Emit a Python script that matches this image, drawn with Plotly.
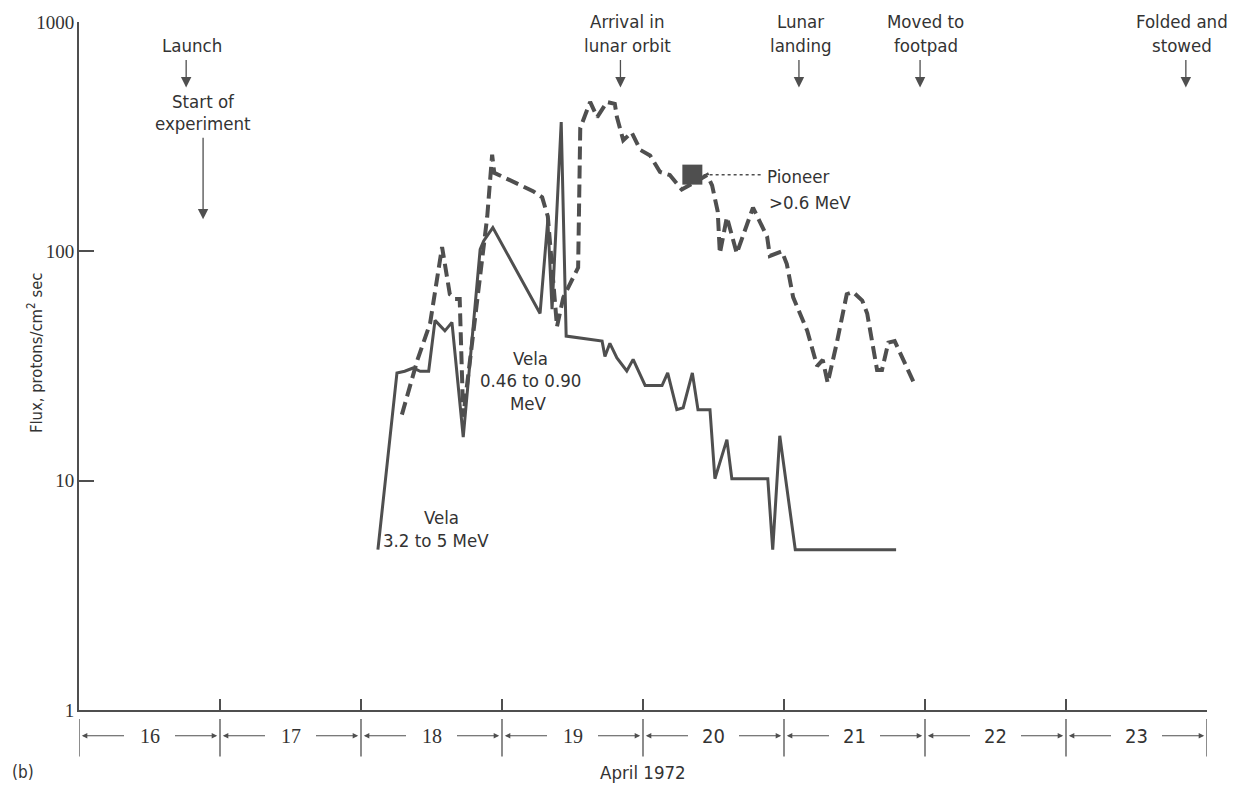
import plotly.graph_objects as go

# Vela 3.2 to 5 MeV (solid trace): day of April 1972, flux
vela_hi_day = [18.12, 18.255, 18.31, 18.37, 18.42, 18.48, 18.525, 18.595, 18.645, 18.725,
               18.845, 18.87, 18.935, 19.27, 19.325, 19.355, 19.42, 19.455, 19.71, 19.73,
               19.765, 19.815, 19.885, 19.93, 20.015, 20.135, 20.175, 20.24, 20.285, 20.35,
               20.39, 20.475, 20.51, 20.595, 20.63, 20.885, 20.92, 20.97, 21.08, 21.795]
vela_hi_flux = [5, 29.5, 30, 31, 30, 30, 50, 45, 49, 15.5,
                102, 111, 127, 53.6, 137, 56, 366, 42.7, 40.6, 34.8,
                39.7, 34.3, 30.1, 33.8, 26, 26, 29.5, 20.4, 20.8, 29.5,
                20.4, 20.4, 10.2, 15.1, 10.2, 10.2, 5, 15.7, 5, 5]

# Vela 0.46 to 0.90 MeV (dashed trace)
vela_lo_day = [18.29, 18.40, 18.49, 18.575, 18.63, 18.665, 18.70, 18.725, 18.895, 18.93,
               18.945, 19.22, 19.285, 19.325, 19.39, 19.435, 19.54, 19.555, 19.625, 19.675,
               19.745, 19.80, 19.815, 19.86, 19.92, 19.98, 20.05, 20.12, 20.19, 20.275,
               20.455, 20.49, 20.53, 20.545, 20.595, 20.665, 20.78, 20.88, 20.90, 20.985,
               21.02, 21.065, 21.165, 21.235, 21.275, 21.31, 21.375, 21.445, 21.49, 21.555,
               21.59, 21.66, 21.695, 21.74, 21.785, 21.93]
vela_lo_flux = [19.4, 33.6, 48.5, 104.5, 65, 62, 62, 19, 141, 264,
                220, 183, 172, 142, 47, 63, 85, 345, 448, 385,
                448, 440, 385, 305, 330, 277, 262, 222, 215, 186,
                215, 194, 149, 98, 141, 98, 155, 116, 95.5, 100,
                88, 63, 45, 31.6, 33.6, 26.7, 40, 65, 66.5, 61,
                53.6, 30.4, 30.4, 40, 40.6, 26]

# Pioneer >0.6 MeV single measurement
pioneer_day = [20.35]
pioneer_flux = [216]

# Mission events: label lines, arrow day, text centre day
event_labels = [["Launch"], ["Arrival in", "lunar orbit"], ["Lunar", "landing"],
                ["Moved to", "footpad"], ["Folded and", "stowed"]]
event_days = [16.76, 19.84, 21.106, 21.965, 23.85]
event_text_days = [16.80, 19.887, 21.12, 22.005, 23.82]

day_labels = ["16", "17", "18", "19", "20", "21", "22", "23"]
day_edges = [16, 17, 18, 19, 20, 21, 22, 23, 24]

INK = "#4f4f4f"
TXT = "#333333"
SANS = "DejaVu Sans Condensed, DejaVu Sans, sans-serif"
SERIF = "Liberation Serif, Times New Roman, serif"
FS = 18.5

W, H = 1243, 788
ML, MR, MT, MB = 79, 36, 16, 78
PH = H - MT - MB


def py(pixel_y):
    """Paper y coordinate from a vertical pixel position."""
    return (H - MB - pixel_y) / PH


def label(x, ypix, text, xanchor="center", size=FS, family=SANS, xref="x", xshift=0):
    return dict(x=x, y=py(ypix), xref=xref, yref="paper", text=text, showarrow=False,
                xanchor=xanchor, yanchor="middle", xshift=xshift,
                font=dict(family=family, size=size, color=TXT))


fig = go.Figure()

fig.add_trace(go.Scatter(x=vela_lo_day, y=vela_lo_flux, mode="lines",
                         line=dict(color=INK, width=4, dash="13px,6px"),
                         hoverinfo="skip", showlegend=False))
fig.add_trace(go.Scatter(x=vela_hi_day, y=vela_hi_flux, mode="lines",
                         line=dict(color=INK, width=3),
                         hoverinfo="skip", showlegend=False))
fig.add_trace(go.Scatter(x=pioneer_day, y=pioneer_flux, mode="markers",
                         marker=dict(symbol="square", size=20, color=INK),
                         hoverinfo="skip", showlegend=False))

ann = []
shapes = []

# Pioneer leader and label
shapes.append(dict(type="line", xref="x", yref="y", x0=20.43, x1=20.85,
                   y0=pioneer_flux[0], y1=pioneer_flux[0],
                   line=dict(color=INK, width=1.5, dash="dot")))
ann.append(label(20.865, 172, "Pioneer", xanchor="left"))
ann.append(label(20.88, 198, "&gt;0.6 MeV", xanchor="left"))

# Vela labels
for txt, d, yy in [("Vela", 19.20, 355), ("0.46 to 0.90", 19.20, 378), ("MeV", 19.19, 401),
                   ("Vela", 18.57, 516), ("3.2 to 5 MeV", 18.53, 539)]:
    ann.append(label(d, yy, txt))

# Event labels with arrows
for lines, ad, td in zip(event_labels, event_days, event_text_days):
    top = 40 if len(lines) == 1 else 15
    for k, line in enumerate(lines):
        ann.append(label(td, top + 25 * k, line))
    ann.append(dict(x=ad, y=py(82), xref="x", yref="paper", text="", showarrow=True,
                    ax=0, ay=-29, arrowhead=2, arrowsize=1.6, arrowwidth=1.3,
                    arrowcolor=INK, standoff=0))

# Start of experiment
ann.append(label(16.88, 96, "Start of"))
ann.append(label(16.88, 118, "experiment"))
ann.append(dict(x=16.88, y=py(215), xref="x", yref="paper", text="", showarrow=True,
                ax=0, ay=-83, arrowhead=2, arrowsize=1.6, arrowwidth=1.3,
                arrowcolor=INK, standoff=0))

# Day brackets below the time axis
for e in day_edges:
    shapes.append(dict(type="line", xref="x", yref="paper", x0=e, x1=e,
                       y0=py(719), y1=py(757), line=dict(color=INK, width=1.3)))
for i, lab in enumerate(day_labels):
    d0, d1 = day_edges[i], day_edges[i + 1]
    mid = (d0 + d1) / 2
    ann.append(label(mid, 736, lab, size=20, family=SERIF if i < 4 else SANS))
    for head, tail in [(d0 + 0.02, mid - 0.17), (d1 - 0.02, mid + 0.17)]:
        ann.append(dict(x=head, y=py(736), xref="x", yref="paper", text="",
                        showarrow=True, axref="x", ax=tail, ayref="pixel", ay=0,
                        arrowhead=2, arrowsize=1, arrowwidth=1.1, arrowcolor=INK,
                        standoff=0))

ann.append(label(20.0, 773, "April 1972"))
ann.append(label(0, 773, "(b)", xanchor="left", size=17, xref="paper", xshift=-ML + 10))

# Axis title
ann.append(dict(x=0, xshift=-44, y=py(350), xref="paper", yref="paper",
                text="Flux, protons/cm<sup>2</sup> sec", textangle=-90, showarrow=False,
                xanchor="center", yanchor="middle",
                font=dict(family=SANS, size=16.5, color=TXT)))

fig.update_layout(
    width=W, height=H,
    margin=dict(l=ML, r=MR, t=MT, b=MB),
    paper_bgcolor="white", plot_bgcolor="white",
    annotations=ann, shapes=shapes,
    xaxis=dict(range=[16, 24], showline=True, linecolor=INK, linewidth=2,
               ticks="inside", tickvals=day_edges, ticklen=11, tickwidth=1.5,
               tickcolor=INK, showticklabels=False, showgrid=False, zeroline=False),
    yaxis=dict(type="log", range=[0, 3], showline=True, linecolor=INK, linewidth=2,
               ticks="inside", tickvals=[1, 10, 100, 1000],
               ticktext=["1", "10", "100", "1000"], ticklen=15, tickwidth=1.5,
               tickcolor=INK, ticklabelstandoff=-1, showgrid=False, zeroline=False,
               tickfont=dict(family=SERIF, size=19, color=TXT)),
)

fig.write_html("out.html")
